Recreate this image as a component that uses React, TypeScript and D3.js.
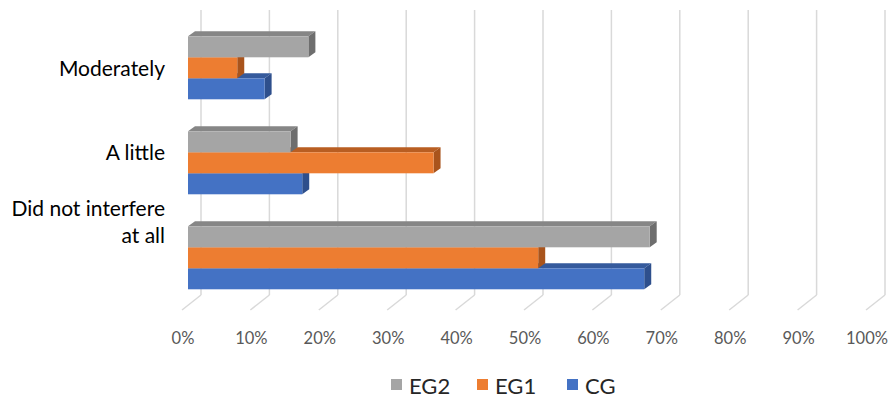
import React from "react";
import * as d3 from "d3";

const categories = ["Moderately", "A little", "Did not interfere at all"];
const categoryLines = [["Moderately"], ["A little"], ["Did not interfere", "at all"]];
const series = ["EG2", "EG1", "CG"];
const EG2 = [0.176, 0.15, 0.675];
const EG1 = [0.072, 0.359, 0.512];
const CG = [0.112, 0.167, 0.667];
const ticks = [0, 0.1, 0.2, 0.3, 0.4, 0.5, 0.6, 0.7, 0.8, 0.9, 1.0];
const tickLabels = ["0%", "10%", "20%", "30%", "40%", "50%", "60%", "70%", "80%", "90%", "100%"];

const values: Record<string, number[]> = { EG2, EG1, CG };
const front: Record<string, string> = { EG2: "#A5A5A5", EG1: "#ED7D31", CG: "#4472C4" };
const side: Record<string, string> = { EG2: "#6e6e6e", EG1: "#a9541c", CG: "#2e4f8c" };
const top: Record<string, string> = { EG2: "#868686", EG1: "#b95e22", CG: "#355a9c" };

export default function App() {
  const W = 888, H = 398;
  const backX0 = 201, frontX0 = 183;
  const backTop = 10, backBottom = 295;
  const depthDX = -19, depthDY = 15;
  const barX0 = 188;
  const barDX = 7, barDY = -5;
  const x = d3.scaleLinear().domain([0, 1]).range([0, 684]);
  const planeTop = 20.3, planeBottom = 305.3;
  const y = d3.scaleBand<string>().domain(categories).range([planeTop, planeBottom]).paddingInner(0.337).paddingOuter(0.1685);
  const ys = d3.scaleBand<string>().domain(series).range([0, y.bandwidth()]);

  const bars: JSX.Element[] = [];
  categories.forEach((c, ci) => {
    [...series].reverse().forEach((s) => {
      const v = values[s][ci];
      const x0 = barX0, x1 = barX0 + x(v);
      const y0 = (y(c) as number) + (ys(s) as number);
      const y1 = y0 + ys.bandwidth();
      bars.push(
        <g key={c + s}>
          <polygon points={`${x0},${y0} ${x0 + barDX},${y0 + barDY} ${x1 + barDX},${y0 + barDY} ${x1},${y0}`} fill={top[s]} />
          <polygon points={`${x1},${y0} ${x1 + barDX},${y0 + barDY} ${x1 + barDX},${y1 + barDY} ${x1},${y1}`} fill={side[s]} />
          <rect x={x0} y={y0} width={x1 - x0} height={y1 - y0} fill={front[s]} />
        </g>
      );
    });
  });

  const labelBaselines = [[76], [159.5], [215.5, 242.5]];

  return (
    <svg width={W} height={H} style={{ position: "absolute", left: 0, top: 0, background: "#fff" }} fontFamily="Lato, 'Open Sans', sans-serif">
      {ticks.map((t, i) => {
        const bx = backX0 + x(t);
        return (
          <g key={i}>
            <line x1={bx} y1={backTop} x2={bx} y2={backBottom} stroke="#d9d9d9" strokeWidth={1.5} />
            <line x1={bx} y1={backBottom} x2={bx + depthDX} y2={backBottom + depthDY} stroke="#d9d9d9" strokeWidth={1.5} />
            <text x={frontX0 + x(t)} y={343.5} textAnchor="middle" fontSize={16.5} fill="#595959">{tickLabels[i]}</text>
          </g>
        );
      })}
      {bars}
      {categoryLines.map((lines, ci) =>
        lines.map((ln, li) => (
          <text key={ci + "-" + li} x={165} y={labelBaselines[ci][li]} textAnchor="end" fontSize={21} fill="#000">{ln}</text>
        ))
      )}
      {series.map((s, i) => {
        const lx = [391, 477, 567][i];
        return (
          <g key={s}>
            <rect x={lx} y={379} width={11} height={11} fill={front[s]} />
            <text x={lx + 18} y={393.5} fontSize={22} fill="#262626">{s}</text>
          </g>
        );
      })}
    </svg>
  );
}
